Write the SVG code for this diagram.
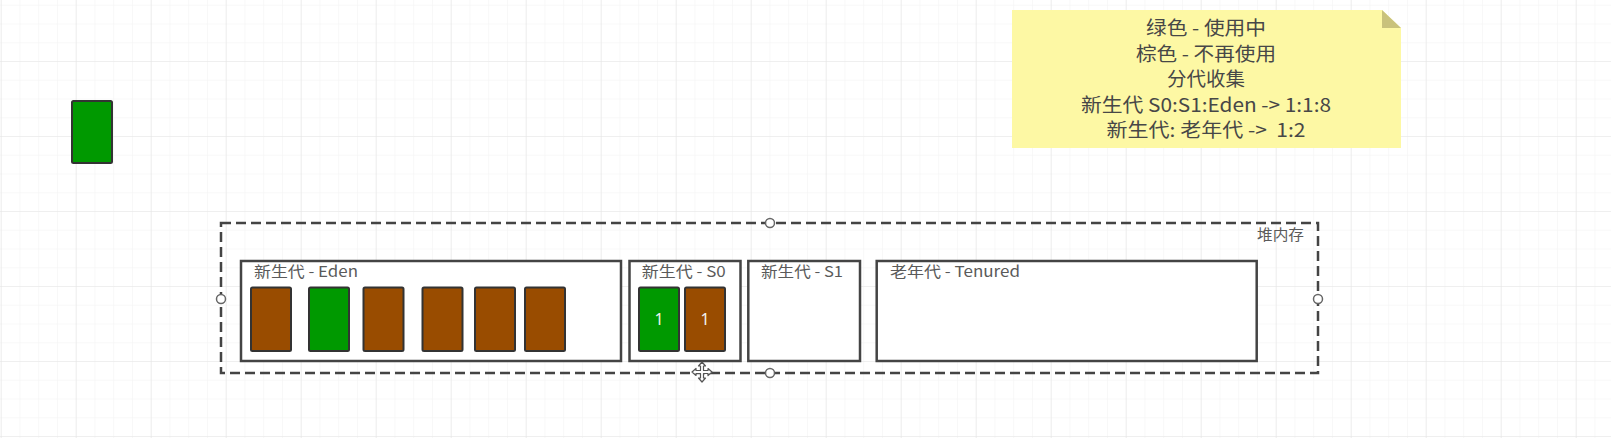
<svg xmlns="http://www.w3.org/2000/svg" width="1611" height="438" viewBox="0 0 1611 438">
  <style>
    .lbl { font-family: "Noto Sans CJK SC", "Noto Sans", sans-serif; font-size: 15px; fill: #5a5a5a; }
    .note { font-family: "Noto Sans CJK SC", "Noto Sans", sans-serif; font-size: 19px; fill: #474747; text-anchor: middle; }
    .region { fill: #ffffff; stroke: #444444; stroke-width: 2.5; }
    .blk { stroke: #333333; stroke-width: 2; }
    .green { fill: #009900; }
    .brown { fill: #994c00; }
    .num { font-family: "Noto Sans", "Liberation Sans", sans-serif; font-size: 16px; fill: #f2f2f2; text-anchor: middle; }
    .handle { fill: #ffffff; stroke: #666666; stroke-width: 1.5; }
  </style>
  <defs>
    <pattern id="minor" x="0.7" y="4.75" width="18.75" height="18.75" patternUnits="userSpaceOnUse">
      <path d="M0 0 V18.75 M0 0 H18.75" fill="none" stroke="#f2f2f2" stroke-width="1"/>
    </pattern>
    <pattern id="major" x="0.7" y="-14" width="75" height="75" patternUnits="userSpaceOnUse">
      <path d="M0 0 V75 M0 0 H75" fill="none" stroke="#e6e6e6" stroke-width="1.2"/>
    </pattern>
  </defs>

  <rect x="0" y="0" width="1611" height="438" fill="#ffffff"/>
  <rect x="0" y="0" width="1611" height="438" fill="url(#minor)"/>
  <rect x="0" y="0" width="1611" height="438" fill="url(#major)"/>

  <g id="legend-block">
    <rect class="blk green" x="72" y="101" width="40" height="62" rx="1.5"/>
  </g>

  <g id="note">
    <path d="M1012 10 H1382 L1401 28 V148 H1012 Z" fill="#fdf8a4"/>
    <path d="M1382 10 L1401 28 H1382 Z" fill="#c9c27c"/>
    <text class="note" x="1206" y="35" textLength="120" lengthAdjust="spacingAndGlyphs">绿色 - 使用中</text>
    <text class="note" x="1206" y="60.5" textLength="140" lengthAdjust="spacingAndGlyphs">棕色 - 不再使用</text>
    <text class="note" x="1206" y="86" textLength="78" lengthAdjust="spacingAndGlyphs">分代收集</text>
    <text class="note" x="1206" y="111.5" textLength="250" lengthAdjust="spacingAndGlyphs">新生代 S0:S1:Eden -&gt; 1:1:8</text>
    <text class="note" x="1206" y="137" textLength="199" lengthAdjust="spacingAndGlyphs">新生代: 老年代 -&gt;&#160; 1:2</text>
  </g>

  <g id="heap">
    <rect x="221" y="223" width="1097" height="150" fill="none" stroke="#444444" stroke-width="2.5" stroke-dasharray="10 5"/>
    <text class="lbl" x="1257" y="240" textLength="47" lengthAdjust="spacingAndGlyphs">堆内存</text>
  </g>

  <g id="eden">
    <rect class="region" x="241" y="261" width="380" height="100"/>
    <text class="lbl" x="254" y="277" textLength="104" lengthAdjust="spacingAndGlyphs">新生代 - Eden</text>
    <rect class="blk brown" x="251" y="287.5" width="40" height="63.5" rx="1.5"/>
    <rect class="blk green" x="309" y="287.5" width="40" height="63.5" rx="1.5"/>
    <rect class="blk brown" x="363.5" y="287.5" width="40" height="63.5" rx="1.5"/>
    <rect class="blk brown" x="422.5" y="287.5" width="40" height="63.5" rx="1.5"/>
    <rect class="blk brown" x="475" y="287.5" width="40" height="63.5" rx="1.5"/>
    <rect class="blk brown" x="525" y="287.5" width="40" height="63.5" rx="1.5"/>
  </g>

  <g id="s0">
    <rect class="region" x="629.5" y="261" width="111" height="100"/>
    <text class="lbl" x="641.7" y="277" textLength="84" lengthAdjust="spacingAndGlyphs">新生代 - S0</text>
    <rect class="blk green" x="639" y="287.5" width="40" height="63.5" rx="1.5"/>
    <text class="num" x="659" y="325">1</text>
    <rect class="blk brown" x="685" y="287.5" width="40" height="63.5" rx="1.5"/>
    <text class="num" x="705" y="325">1</text>
  </g>

  <g id="s1">
    <rect class="region" x="748.3" y="261" width="111.7" height="100"/>
    <text class="lbl" x="761" y="277" textLength="82" lengthAdjust="spacingAndGlyphs">新生代 - S1</text>
  </g>

  <g id="tenured">
    <rect class="region" x="876.7" y="261" width="380" height="100"/>
    <text class="lbl" x="890" y="277" textLength="130" lengthAdjust="spacingAndGlyphs">老年代 - Tenured</text>
  </g>

  <g id="connectors"></g>

  <g id="handles">
    <circle class="handle" cx="770" cy="223" r="4.5"/>
    <circle class="handle" cx="221" cy="299" r="4.5"/>
    <circle class="handle" cx="1318" cy="299" r="4.5"/>
    <circle class="handle" cx="770" cy="373" r="4.5"/>
  </g>

  <g id="cursor" transform="translate(702 372)">
    <path d="M0 -10 L3.5 -6 H1.5 V-1.5 H6 V-3.5 L10 0 L6 3.5 V1.5 H1.5 V6 H3.5 L0 10 L-3.5 6 H-1.5 V1.5 H-6 V3.5 L-10 0 L-6 -3.5 V-1.5 H-1.5 V-6 H-3.5 Z" fill="#ffffff" stroke="#555555" stroke-width="1.2" stroke-linejoin="round"/>
  </g>
</svg>
